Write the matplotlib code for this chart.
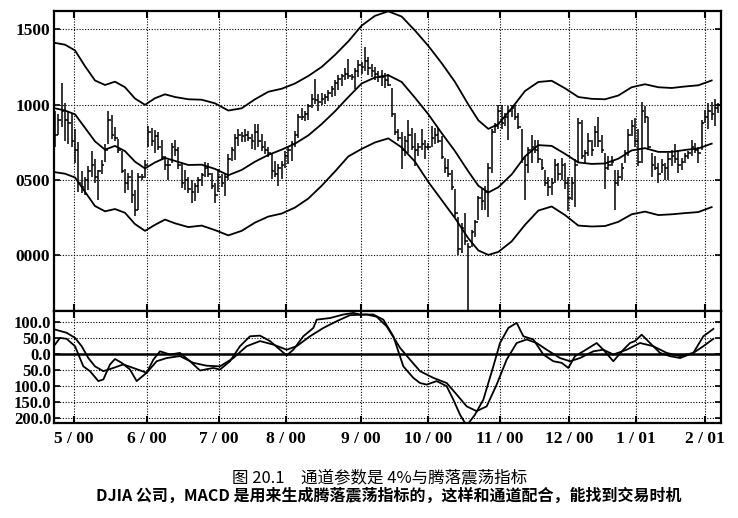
import numpy as np
import matplotlib
matplotlib.use('Agg')
import matplotlib.pyplot as plt

plt.rcParams['font.family'] = ['Liberation Serif', 'Noto Sans CJK SC']

# daily bars (trading day index 0..199): high / low / close
high = [960, 940, 1140, 1010, 960, 945, 840, 750, 560, 520,
        590, 690, 635, 565, 630, 740, 960, 930, 850, 770,
        690, 570, 545, 565, 430, 545, 540, 630, 855, 845,
        830, 820, 765, 655, 630, 745, 765, 720, 610, 565,
        520, 500, 480, 520, 545, 620, 610, 545, 480, 570,
        540, 540, 670, 715, 805, 840, 815, 840, 825, 805,
        870, 870, 805, 760, 715, 670, 625, 605, 625, 690,
        715, 760, 825, 940, 980, 960, 1005, 1070, 1170, 1070,
        1080, 1070, 1095, 1125, 1160, 1195, 1205, 1240, 1305, 1205,
        1240, 1295, 1280, 1385, 1315, 1270, 1250, 1225, 1230, 1210,
        1200, 1110, 945, 835, 820, 790, 900, 845, 810, 745,
        835, 765, 745, 855, 845, 845, 790, 645, 635, 565,
        440, 255, 210, 280, 80, 165, 235, 390, 435, 455,
        610, 835, 880, 1000, 1000, 945, 990, 1000, 1000, 945,
        835, 655, 720, 800, 765, 765, 635, 565, 520, 510,
        635, 610, 645, 610, 520, 520, 635, 910, 900, 700,
        810, 765, 855, 920, 800, 680, 655, 655, 565, 565,
        610, 700, 835, 900, 910, 835, 1020, 990, 920, 680,
        655, 610, 635, 610, 680, 700, 735, 700, 645, 680,
        690, 765, 745, 720, 900, 965, 1010, 1020, 1035, 1010]
low = [720, 800, 850, 760, 740, 720, 610, 420, 410, 400,
       430, 520, 480, 365, 540, 620, 740, 770, 760, 680,
       545, 410, 430, 345, 260, 300, 495, 510, 720, 725,
       680, 700, 635, 565, 500, 610, 655, 570, 445, 430,
       410, 345, 360, 410, 455, 520, 520, 435, 345, 420,
       450, 395, 495, 625, 630, 725, 750, 750, 760, 705,
       695, 715, 690, 670, 650, 505, 515, 460, 505, 580,
       605, 625, 715, 780, 895, 890, 895, 980, 1005, 960,
       995, 1005, 1025, 1050, 1060, 1095, 1125, 1160, 1170, 1160,
       1105, 1180, 1205, 1225, 1195, 1180, 1160, 1150, 1120, 1110,
       1120, 920, 800, 755, 570, 655, 680, 700, 590, 655,
       700, 635, 700, 720, 735, 745, 635, 545, 520, 430,
       255, 0, 10, 65, -370, 55, 120, 235, 300, 300,
       255, 545, 810, 835, 835, 855, 765, 920, 900, 835,
       610, 365, 545, 610, 680, 610, 565, 455, 390, 400,
       480, 500, 500, 435, 290, 365, 320, 610, 635, 610,
       655, 655, 720, 720, 680, 435, 565, 590, 300, 455,
       500, 610, 655, 790, 720, 590, 610, 880, 700, 520,
       565, 480, 545, 500, 500, 590, 610, 545, 565, 610,
       635, 655, 680, 610, 700, 880, 835, 900, 855, 945]
close = [800, 900, 960, 900, 880, 760, 700, 480, 450, 500,
         560, 600, 520, 560, 600, 700, 900, 800, 780, 700,
         560, 480, 520, 400, 300, 520, 520, 600, 820, 760,
         790, 720, 650, 600, 600, 720, 700, 600, 480, 500,
         440, 420, 460, 500, 530, 580, 540, 460, 400, 520,
         480, 520, 640, 700, 780, 800, 790, 800, 780, 760,
         820, 760, 720, 700, 680, 560, 540, 580, 600, 660,
         700, 740, 800, 920, 920, 940, 990, 1040, 1030, 1020,
         1040, 1050, 1080, 1100, 1140, 1170, 1190, 1200, 1190, 1180,
         1220, 1260, 1250, 1290, 1240, 1220, 1200, 1180, 1180, 1160,
         1130, 940, 820, 780, 700, 760, 800, 720, 700, 720,
         740, 720, 720, 780, 800, 760, 650, 580, 540, 450,
         280, 40, 180, 90, 50, 150, 220, 380, 360, 420,
         580, 820, 860, 960, 880, 920, 960, 980, 920, 850,
         640, 600, 700, 720, 700, 640, 580, 480, 450, 480,
         600, 540, 600, 480, 380, 480, 600, 880, 660, 680,
         760, 700, 820, 760, 700, 580, 600, 620, 480, 520,
         580, 680, 800, 860, 760, 620, 960, 920, 720, 600,
         580, 540, 600, 580, 640, 660, 640, 600, 620, 660,
         680, 720, 700, 680, 880, 920, 960, 940, 980, 1000]

# channel: moving average and 4% envelope
band_day = [0, 3, 6, 9, 12, 15, 18, 21, 24, 27, 30, 33, 36, 40, 44, 48, 52, 56,
            60, 64, 68, 72, 76, 80, 84, 88, 92, 96, 100, 104, 108, 112, 116, 120,
            124, 127, 130, 133, 137, 141, 145, 149, 153, 157, 161, 165, 169, 173,
            177, 181, 185, 189, 193, 197]
upper = [1410, 1398, 1360, 1255, 1160, 1130, 1152, 1115, 1040, 998, 1042, 1068,
         1050, 1035, 1032, 1008, 960, 975, 1035, 1085, 1105, 1140, 1190, 1250,
         1330, 1420, 1525, 1590, 1620, 1585, 1492, 1390, 1275, 1150, 1000, 895,
         838, 870, 975, 1090, 1150, 1158, 1108, 1050, 1038, 1035, 1060, 1115,
         1135, 1115, 1110, 1120, 1128, 1160]
middle = [975, 960, 935, 845, 755, 700, 725, 690, 620, 575, 615, 645, 625, 598,
          600, 572, 530, 565, 620, 665, 700, 740, 795, 870, 955, 1050, 1140, 1180,
          1195, 1150, 1045, 935, 810, 690, 555, 460, 415, 450, 535, 655, 730, 725,
          672, 615, 605, 608, 640, 695, 710, 685, 685, 698, 708, 740]
lower = [550, 540, 515, 420, 325, 290, 305, 280, 205, 160, 200, 235, 210, 185,
         195, 165, 130, 160, 215, 255, 275, 315, 375, 460, 555, 655, 705, 748,
         775, 715, 620, 485, 365, 245, 110, 30, 0, 20, 90, 200, 295, 322, 265,
         195, 189, 192, 220, 270, 288, 265, 270, 278, 285, 318]

# oscillator (MACD of advance-decline) and its signal line
fast_day = [0, 1.5, 3.5, 6, 8.5, 10.5, 13, 14.5, 16.5, 18, 20, 22.5, 24.5, 27.5,
            29.5, 31.5, 34.5, 37.5, 40.5, 43.5, 47.5, 49.5, 52.5, 55.5, 58.5,
            61.5, 64.5, 67.5, 69.5, 71.5, 74.5, 77.5, 78.5, 82.5, 86.5, 89.5,
            91.5, 95.5, 98.5, 101.5, 104.5, 107.5, 109.5, 111.5, 114.5, 117.5,
            119.5, 121.5, 123.5, 126, 128.5, 131.5, 133.5, 136, 138.5, 140.5,
            143.5, 146.5, 149.5, 152, 154, 156, 158.5, 162.5, 164.5, 167.5,
            170.5, 172.5, 174, 176, 178.5, 181.5, 184.5, 187.5, 191.5, 194.5, 197.5]
fast = [28, 49, 46, 23, -40, -55, -86, -81, -34, -17, -29, -50, -86, -60,
        -19, 7, -3, 2, -24, -53, -45, -50, -24, 23, 54,
        56, 39, 12, -6, 12, 54, 80, 106, 111, 122, 127,
        122, 122, 106, 54, -40, -76, -92, -97, -86, -102,
        -144, -191, -225, -191, -144, -40, 33, 80, 96, 54,
        44, -3, -24, -29, -45, -8, 7, 33, 12, -24,
        12, 33, 39, 59, 33, 2, -8, -14, 2, 54, 77]
slow_day = [0, 3.5, 6, 8, 10, 12, 14.5, 17.5, 20.5, 23.5, 27.5, 30.5, 33.5, 37.5,
            41.5, 45.5, 49.5, 53.5, 57.5, 61.5, 65.5, 69.5, 72.5, 76.5, 80.5,
            84.5, 88.5, 93.5, 96.5, 99.5, 103.5, 106.5, 109.5, 113.5, 117.5,
            120.5, 123.5, 126.5, 129.5, 132.5, 135.5, 138.5, 141.5, 144.5, 147.5,
            151.5, 154.5, 157.5, 161.5, 164.5, 167.5, 171.5, 175.5, 179.5, 183.5,
            187.5, 191.5, 194.5, 197.5]
slow = [75, 65, 49, 23, -14, -40, -55, -45, -34, -45, -60, -24, -14, -8,
        -29, -38, -40, -14, 23, 39, 28, 12, 23, 54, 80,
        101, 120, 122, 115, 85, 18, -19, -55, -76, -92,
        -128, -165, -180, -165, -97, -19, 33, 44, 33, 12,
        -14, -24, -14, 7, 12, -3, 12, 33, 23, 2,
        -8, 2, 23, 46]

month_day = [5.7, 27.6, 49.2, 69.3, 91.8, 111.9, 133.5, 154.2, 174.3, 195.0]
month_lbl = ['5 / 00', '6 / 00', '7 / 00', '8 / 00', '9 / 00', '10 / 00',
             '11 / 00', '12 / 00', '1 / 01', '2 / 01']
price_ticks = [0, 500, 1000, 1500]
price_lbl = ['0000', '0500', '1000', '1500']
osc_ticks = [100, 50, 0, -50, -100, -150, -200]
osc_lbl = ['100.0', '50.0', '0.0', '50.0', '100.0', '150.0', '200.0']

fig = plt.figure(figsize=(7.38, 5.18), dpi=100)
ax = fig.add_axes([54 / 738, 1 - 311 / 518, 667 / 738, 300 / 518])
ax2 = fig.add_axes([54 / 738, 1 - 423 / 518, 667 / 738, 112 / 518], sharex=ax)

days = np.arange(len(high))
ax.vlines(days, low, high, color='black', lw=1.1)
ax.hlines(close, days, days + 0.8, color='black', lw=1.1)
for band in (upper, middle, lower):
    ax.plot(band_day, band, color='black', lw=1.3)

ax.set_xlim(-0.3, 199.8)
ax.set_ylim(-373, 1622)
ax.set_yticks(price_ticks)
ax.set_yticklabels(price_lbl, fontweight='bold')
ax.set_xticks(month_day)
ax.tick_params(axis='x', labelbottom=False, top=True, direction='in', length=5, width=1.5)
ax.tick_params(axis='y', right=True, direction='in', length=4, width=1.2, labelsize=12.5, pad=3)
ax.grid(True, color='black', linestyle=(0, (1, 1.5)), lw=0.8)

ax2.plot(slow_day, slow, color='black', lw=1.3)
ax2.plot(fast_day, fast, color='black', lw=1.3)
ax2.axhline(0, color='black', lw=1.8)
ax2.set_ylim(-217, 133)
ax2.set_yticks(osc_ticks)
ax2.set_yticklabels(osc_lbl, fontweight='bold')
ax2.set_xticks(month_day)
ax2.set_xticklabels(month_lbl, fontweight='bold')
ax2.tick_params(axis='x', top=True, direction='in', length=5, width=1.5, labelsize=12.5, pad=6)
ax2.tick_params(axis='y', right=True, direction='in', length=4, width=1.2, labelsize=12, pad=2)
ax2.grid(True, color='black', linestyle=(0, (1, 1.5)), lw=0.8)

for a in (ax, ax2):
    for s in a.spines.values():
        s.set_linewidth(1.6)

fig.text(0.514, 1 - 479 / 518, '图 20.1　通道参数是 4%与腾落震荡指标',
         ha='center', va='center', fontsize=11.9, family=['Noto Sans CJK SC'])
fig.text(0.5264, 1 - 496 / 518, 'DJIA 公司，MACD 是用来生成腾落震荡指标的，这样和通道配合，能找到交易时机',
         ha='center', va='center', fontsize=11.5, fontweight='bold', family=['Noto Sans CJK SC'])

fig.savefig('out.png', dpi=100)
